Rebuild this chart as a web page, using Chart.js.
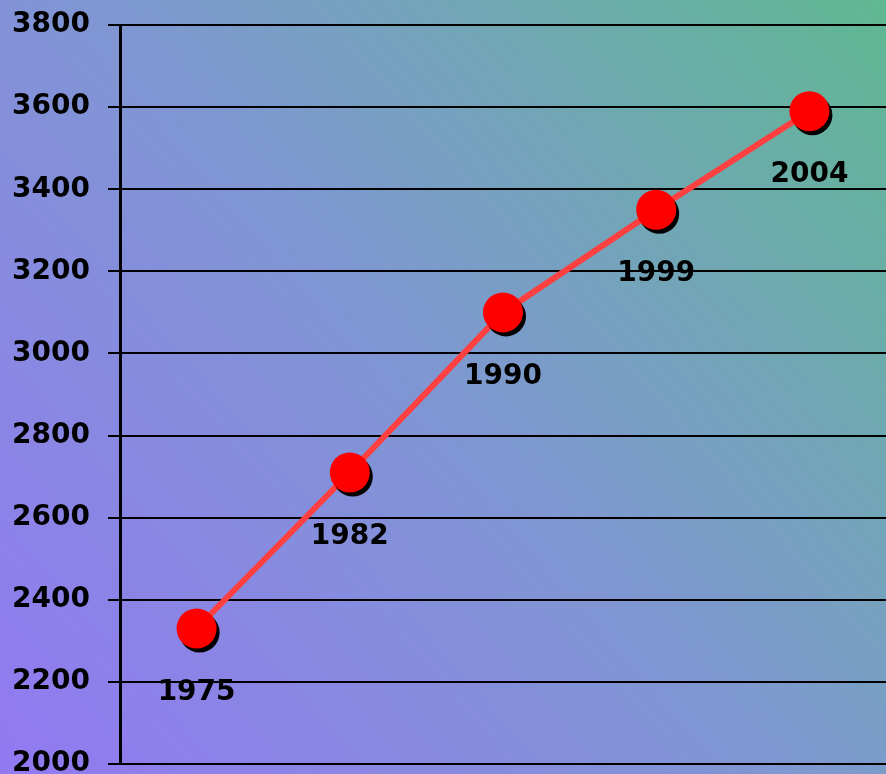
<!DOCTYPE html>
<html>
<head>
<meta charset="utf-8">
<script src="https://cdn.jsdelivr.net/npm/chart.js@4.4.1/dist/chart.umd.min.js"></script>
<style>
    html, body { margin: 0; padding: 0; overflow: hidden; }
    #wrap { width: 886px; height: 774px; }
</style>
</head>
<body>
<div id="wrap"><canvas id="chart"></canvas></div>
<script>
const years  = ['1975', '1982', '1990', '1999', '2004']
const values = [2330, 2710, 3100, 3350, 3590]

const yMin  = 2000
const yMax  = 3800
const yStep = 200

const fontFamily = '"DejaVu Sans", sans-serif'

// diagonal purple -> green background behind everything
const backgroundPlugin = {
    id: 'bg',
    beforeDraw(chart) {
        const {ctx, width, height} = chart
        const g = ctx.createLinearGradient(0, height, width, 0)
        g.addColorStop(0, '#9279f2')
        g.addColorStop(0.5, '#7f97d2')
        g.addColorStop(1, '#60b892')
        ctx.save()
        ctx.fillStyle = g
        ctx.fillRect(0, 0, width, height)
        ctx.restore()
    }
}

// hard black shadow only under the markers
const shadowPlugin = {
    id: 'markerShadow',
    beforeDatasetDraw(chart, args) {
        if (args.index !== 0) return
        const ctx = chart.ctx
        ctx.save()
        ctx.shadowColor   = '#000'
        ctx.shadowOffsetX = 3
        ctx.shadowOffsetY = 4
        ctx.shadowBlur    = 0
    },
    afterDatasetDraw(chart, args) {
        if (args.index !== 0) return
        chart.ctx.restore()
    }
}

// year label under every point
const yearLabelPlugin = {
    id: 'yearLabels',
    afterDatasetsDraw(chart) {
        const ctx  = chart.ctx
        const meta = chart.getDatasetMeta(0)
        ctx.save()
        ctx.fillStyle    = '#000'
        ctx.font         = 'bold 28px ' + fontFamily
        ctx.textAlign    = 'center'
        ctx.textBaseline = 'middle'
        meta.data.forEach((pt, i) => {
            ctx.fillText(years[i], pt.x, pt.y + 64)
        })
        ctx.restore()
    }
}

new Chart(document.getElementById('chart'), {
    type   : 'line',
    data   : {
        labels  : years,
        datasets: [
            {
                data                : values,
                showLine            : false,
                pointRadius         : 20,
                pointHoverRadius    : 20,
                pointBackgroundColor: '#ff0000',
                pointBorderWidth    : 0,
            },
            {
                data       : values,
                borderColor: '#ff4040',
                borderWidth: 6,
                pointRadius: 0,
                tension    : 0,
            }
        ]
    },
    options: {
        responsive         : true,
        maintainAspectRatio: false,
        animation          : false,
        layout             : {autoPadding: false, padding: {top: 25, bottom: 10, right: 0, left: 0}},
        plugins            : {
            legend : {display: false},
            tooltip: {enabled: false},
        },
        scales             : {
            x: {
                display: false,
                offset : true,
            },
            y: {
                min   : yMin,
                max   : yMax,
                border: {color: '#000', width: 3},
                grid  : {color: '#000', lineWidth: 2, tickLength: 12, tickColor: '#000'},
                ticks : {
                    stepSize: yStep,
                    padding : 18,
                    color   : '#000',
                    font    : {family: fontFamily, size: 28, weight: 'bold'},
                    callback: value => String(value),
                },
                afterFit(scale) {
                    scale.width         = 120
                    scale.paddingTop    = 0
                    scale.paddingBottom = 0
                }
            }
        }
    },
    plugins: [backgroundPlugin, shadowPlugin, yearLabelPlugin]
})
</script>
</body>
</html>
